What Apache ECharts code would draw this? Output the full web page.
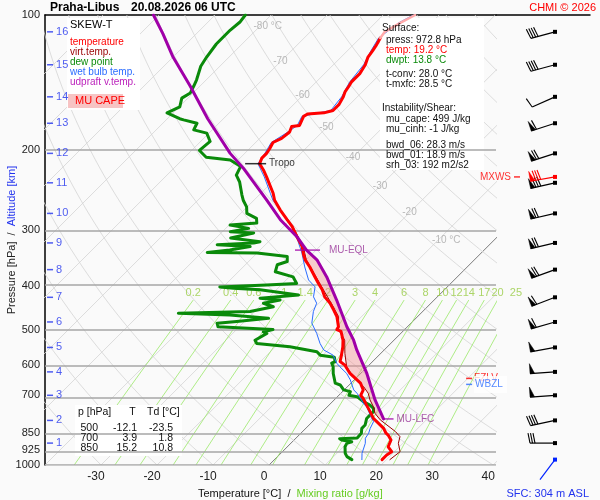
<!DOCTYPE html>
<html>
<head>
<meta charset="utf-8">
<title>Praha-Libus skew-T</title>
<script src="https://cdn.jsdelivr.net/npm/echarts@6.0.0/dist/echarts.min.js"></script>
<style>
  html, body { margin: 0; padding: 0; background: #fafafa; }
  #chart { width: 600px; height: 500px; }
</style>
</head>
<body>
<div id="chart"></div>
<script>
// Sounding Praha-Libus 20.08.2026 06 UTC
// profiles are [pressure hPa, temperature °C]
const temperature = [[972.8,19.2],[950,19.2],[934,19.5],[911,18.0],[880,17.3],[858,15.9],[850,15.2],[829,13.9],[808,12.1],[788,10.3],[761,8.5],[736,6.7],[711,4.9],[700,3.9],[693,3.75],[681,3.4],[658,1.7],[626,-1.9],[600,-4.3],[589,-5.8],[570,-6.7],[547,-7.9],[528,-9.1],[505,-11.0],[500,-12.1],[493,-12.3],[468,-14.4],[452,-16.2],[437,-18.0],[423,-20.1],[408,-21.8],[395,-23.6],[382,-25.4],[363,-28.1],[350,-30.2],[341,-31.4],[327,-33.1],[311,-35.8],[295,-38.5],[285,-40.6],[271,-43.6],[258,-46.3],[249,-47.8],[229,-51.9],[221,-53.7],[214,-55.5],[208,-56.1],[203,-56.1],[198,-56.4],[192,-56.9],[188,-56.1],[182,-55.8],[177,-56.4],[176,-55.2],[168,-56.1],[166,-55.8],[165,-53.1],[163,-51.9],[158,-51.9],[152,-52.5],[148,-53.1],[144,-53.4],[141,-53.7],[135,-53.7],[129,-54.3],[124,-55.2],[120,-55.5],[117,-55.8],[112.5,-56.4]];
const temperatureTop = [[112.5,-56.4],[109,-56.7],[104,-55.5],[100,-54.3]];
const virtTemp = [[972.8,20.6],[934,21.0],[895,19.2],[865,18.3],[843,16.6],[815,13.9],[794,11.8],[768,9.7],[742,8.2],[717,6.4],[693,4.9],[670,2.9],[637,-0.7],[605,-3.7],[565,-6.4],[528,-8.8],[500,-11.8],[468,-14.1],[437,-17.8],[408,-21.6],[382,-25.2],[350,-30.0],[327,-32.9],[295,-38.4]];
const dewPoint = [[972.8,13.8],[958,12.4],[942,11.5],[911,10.3],[895,10.0],[888,10.6],[880,8.5],[874,7.9],[871,10.9],[850,10.8],[829,10.0],[815,10.0],[788,9.1],[774,9.1],[761,9.1],[748,8.5],[736,7.3],[723,5.5],[705,3.5],[700,1.8],[687,1.4],[681,-0.1],[664,-1.6],[658,-2.8],[626,-4.9],[605,-6.1],[594,-7.0],[589,-6.7],[576,-7.6],[570,-10.5],[560,-11.7],[546,-17.4],[537,-23.9],[528,-24.8],[510,-23.9],[506,-24.8],[500,-23.5],[493,-33.8],[484,-34.6],[480,-31.4],[472,-26.3],[464,-33.8],[460,-43.3],[456,-30.8],[445,-27.5],[437,-29.9],[430,-27.5],[426,-31.4],[419,-25.1],[408,-32.9],[405,-37.9],[402,-40.6],[398,-32.6],[395,-27.5],[382,-29.3],[372,-33.4],[359,-34.3],[353,-33.1],[344,-34.0],[338,-40.0],[337,-49.0],[333,-45.4],[327,-42.4],[324,-48.6],[321,-42.4],[319,-41.5],[313,-47.4],[305,-44.2],[303,-48.6],[298,-45.9],[293,-49.8],[290,-45.4],[283,-46.3],[276,-48.9],[267,-50.1],[258,-51.9],[251,-53.1],[235,-55.8],[227,-57.6],[217,-58.4],[210,-61.4],[207,-66.2],[200,-68.6],[191,-68.3],[183,-70.4],[180,-73.3],[174,-73.9],[171,-76.9],[170,-77.8],[165,-81.1],[160,-79.9],[153,-81.1],[149,-80.5],[144,-81.1],[139.5,-81.7],[130,-83.4],[124,-84.0],[116,-84.6],[108,-84.6],[103.5,-84.3],[100,-84.6]];
const wetBulb = [[972.8,15.6],[942,14.5],[895,13.3],[872,12.4],[850,12.1],[829,11.5],[801,10.9],[788,10.0],[742,7.0],[730,5.8],[717,4.9],[693,2.9],[681,1.7],[647,-0.7],[626,-2.5],[605,-4.9],[594,-6.1],[570,-8.2],[555,-10.8],[537,-12.6],[510,-15.0],[484,-17.7],[456,-19.5],[437,-20.4],[423,-22.1],[402,-23.6],[388,-26.0],[363,-29.0],[338,-32.0],[321,-34.4],[305,-36.7],[290,-39.4],[276,-42.4],[258,-46.6],[249,-48.3],[229,-52.3],[214,-55.8],[203,-56.4],[192,-57.2],[182,-56.1],[176,-55.6],[168,-56.4],[163,-52.3],[152,-52.8],[141,-54.0],[129,-54.6],[120,-55.8],[112.5,-56.7],[104,-55.8],[100,-54.6]];
const parcelVirt = [[790,12.2],[717,7.3],[626,1.1],[555,-4.9],[528,-7.2],[493,-10.8],[430,-17.4],[382,-23.3],[350,-28.1],[333,-31.7],[311,-35.8],[285,-41.8],[258,-47.7],[219,-57.6],[203,-62.6],[170,-72.8],[144,-81.7],[124,-90.0],[110,-96.0],[100,-101.0]];

// levels
const tropo = [214, -55.5];
const muLfc = [790, 12.2];
const muEql = [333, -31.7];
const fzlvP = 642;
const wbzlP = 662;

// wind barbs at altitude levels (km), direction deg, speed kt
const altKm = [1, 2, 3, 4, 5, 6, 7, 8, 9, 10, 11, 12, 13, 14, 15, 16];
const altP = [894, 796, 700, 621, 548, 481, 424, 368, 321, 276, 236, 203, 174, 152, 129, 109];
const windDir = [270, 258, 266, 266, 260, 254, 249, 250, 257, 257, 257, 252, 252, 246, 255, 255];
const windSpd = [30, 40, 50, 50, 50, 60, 60, 70, 70, 70, 80, 70, 60, 10, 40, 40];
const mxws = [229, 260, 80];
const sfcWind = [972.8, 217, 0];

// axes and background lines
const pressureTicks = [100, 200, 300, 400, 500, 600, 700, 850, 925, 1000];
const pressureLines = [200, 300, 400, 500, 600, 700, 850, 925];
const tempTicks = [-30, -20, -10, 0, 10, 20, 30, 40];
const isotherms = [-110, -100, -90, -80, -70, -60, -50, -40, -30, -20, -10, 0, 10, 20, 30, 40];
const isoLabelT = [-80, -70, -60, -50, -40, -30, -20, -10];
const isoLabelP = [106, 127, 151, 178, 207, 240, 275, 316];
const dryTheta = [-30, -20, -10, 0, 10, 20, 30, 40, 50, 60, 70, 80, 90, 100, 110, 120, 130, 140, 150, 160, 170, 180, 190, 200];
const mixRatio = [0.2, 0.4, 0.6, 1, 1.4, 2, 3, 4, 6, 8, 10, 12, 14, 17, 20, 25];
const mixTopP = 430;

const tableRows = [['500', '-12.1', '-23.5'], ['700', '3.9', '1.8'], ['850', '15.2', '10.8']];

const FONT = 'Liberation Sans, Arial, sans-serif';
const SKEW = 80.36;   // degC per pressure decade

// skew-T transform: x = T + skew*log(1000/p), y = log10(p)
const sk = (p, t) => [t + SKEW * Math.log10(1000 / p), Math.log10(p)];
const toXY = arr => arr.map(d => sk(d[0], d[1]));

const logSteps = (pBottom, pTop) => {
  const out = [];
  for (let l = Math.log10(pBottom); l > Math.log10(pTop); l -= 0.02) out.push(Math.pow(10, l));
  out.push(pTop);
  return out;
};
const tDry = (th, p) => (th + 273.15) * Math.pow(p / 1000, 0.2857) - 273.15;
const tMix = (w, p) => {
  const l = Math.log((w * p / (622 + w)) / 6.112);
  return 243.5 * l / (17.67 - l);
};

function bgLine(data, color, width, extra) {
  return Object.assign({
    type: 'line', data: data, showSymbol: false, silent: true, z: 1,
    xAxisIndex: 0, yAxisIndex: 0, lineStyle: {color: color, width: width}
  }, extra || {});
}

function profile(data, color, width, z) {
  return {
    type: 'line', data: toXY(data), showSymbol: false, silent: true, z: z,
    xAxisIndex: 0, yAxisIndex: 0,
    lineStyle: {color: color, width: width, join: 'round', cap: 'round'}
  };
}

const series = [];

isotherms.forEach(t => {
  series.push(bgLine([sk(1000, t), sk(100, t)], t === 0 ? '#7a7a7a' : '#d4d4d4', t === 0 ? 1 : 0.8));
});
dryTheta.forEach(th => {
  series.push(bgLine(logSteps(1000, 100).map(p => sk(p, tDry(th, p))), '#d4d4d4', 0.8));
});
mixRatio.forEach(w => {
  series.push(bgLine(logSteps(1000, mixTopP).map(p => sk(p, tMix(w, p))), '#9be868', 0.8, {clip: false}));
});

// pressure levels
series.push({
  type: 'line', data: [[-40, 3], [40.5, 3]], showSymbol: false, silent: true, z: 2,
  lineStyle: {color: '#a6a6a6', width: 1.5},
  markLine: {
    silent: true, symbol: 'none', animation: false, label: {show: false},
    lineStyle: {color: '#a6a6a6', width: 1.5, type: 'solid'},
    data: pressureLines.map(p => ({yAxis: Math.log10(p)}))
  }
});

// labels of isotherms and mixing ratio lines
series.push({
  type: 'scatter', symbolSize: 0, silent: true, z: 3, clip: false,
  data: isoLabelT.map((t, i) => ({
    value: sk(isoLabelP[i], t),
    label: {
      show: true, position: 'inside', color: '#a8a8a8', fontSize: 10, fontFamily: FONT,
      formatter: (i === 0 || i === isoLabelT.length - 1) ? t + ' °C' : String(t),
      offset: (i === 0 || i === isoLabelT.length - 1) ? [8, 0] : [0, 0]
    }
  }))
});
series.push({
  type: 'scatter', symbolSize: 0, silent: true, z: 3, clip: false,
  data: mixRatio.map(w => ({
    value: sk(mixTopP, tMix(w, mixTopP)),
    label: {show: true, position: 'inside', offset: [0, -7], color: '#99cc44', fontSize: 11,
            fontFamily: FONT, formatter: String(w)}
  }))
});

// CAPE area between the parcel and the environment
series.push({
  type: 'custom', silent: true, z: 6, xAxisIndex: 0, yAxisIndex: 0,
  data: [[0, 2.5]],
  renderItem: (params, api) => {
    const upper = parcelVirt.filter(d => d[0] >= muEql[0] && d[0] <= muLfc[0]);
    const lower = virtTemp.filter(d => d[0] >= muEql[0] && d[0] <= 800).reverse();
    const pts = upper.concat(lower).map(d => api.coord(sk(d[0], d[1])));
    return {type: 'polygon', shape: {points: pts}, style: {fill: 'rgba(240,140,140,0.42)'}};
  }
});

series.push(profile(dewPoint, '#0a8a0a', 3, 10));
series.push(profile(wetBulb, '#2a6cff', 1, 11));
series.push(profile(virtTemp, '#990000', 1, 11));
series.push(profile(temperature, '#ff0000', 3, 12));
series.push(profile(temperatureTop, '#ffaaaa', 2.5, 12));
series.push(profile(parcelVirt, '#a000a8', 3, 13));

// level markers
const markerLabel = (text, color, dist) => ({
  show: true, position: 'right', distance: dist, formatter: text,
  color: color, fontSize: 10, fontFamily: FONT
});
series.push({
  type: 'scatter', symbol: 'rect', silent: true, z: 20, clip: false,
  data: [
    {value: sk(tropo[0], tropo[1]), symbolSize: [21, 1.5], symbolOffset: [-4, 0],
     itemStyle: {color: '#000'}, label: markerLabel('Tropo', '#000', 3)},
    {value: sk(muEql[0], muEql[1]), symbolSize: [25, 1.5], symbolOffset: [1, 0],
     itemStyle: {color: '#a000a8'}, label: markerLabel('MU-EQL', '#993399', 9)},
    {value: sk(muLfc[0], muLfc[1]), symbolSize: [10, 1.5], symbolOffset: [5, 0],
     itemStyle: {color: '#a000a8'}, label: markerLabel('MU-LFC', '#993399', 3)},
    {value: [35.7, Math.log10(fzlvP)], symbolSize: [6, 1.5],
     itemStyle: {color: '#ff0000'}, label: markerLabel('FZLV', '#ff0000', 2)}
  ]
});
series.push({
  type: 'scatter', symbol: 'rect', silent: true, z: 21, clip: false,
  data: [{value: [35.7, Math.log10(wbzlP)], symbolSize: [6, 1.5], itemStyle: {color: '#2a6cff'},
          label: Object.assign(markerLabel('WBZL', '#2a6cff', 2),
                               {backgroundColor: '#fff', padding: [4, 4, 3, 1]})}]
});

// altitude scale
series.push({
  type: 'scatter', symbol: 'rect', symbolSize: [6, 1.5], silent: true, z: 20, clip: false,
  itemStyle: {color: '#2233ee'},
  data: altP.map((p, i) => ({
    value: [-39.1, Math.log10(p)],
    label: {show: true, position: 'right', distance: 3, formatter: String(altKm[i]),
            color: '#2233ee', fontSize: 11, fontFamily: FONT}
  }))
});

// wind barbs in the right strip
const barbColors = ['#000000', '#ff0000', '#0022ff'];
const windRows = altP.map((p, i) => [59, Math.log10(p), windDir[i], windSpd[i], 0]);
windRows.push([59, Math.log10(mxws[0]), mxws[1], mxws[2], 1]);
windRows.push([59, Math.log10(sfcWind[0]), sfcWind[1], sfcWind[2], 2]);

function renderBarb(params, api) {
  const c = api.coord([api.value(0), api.value(1)]);
  const a = api.value(2) * Math.PI / 180;
  let spd = api.value(3);
  const col = barbColors[api.value(4)];
  const u = [Math.sin(a), -Math.cos(a)];
  const n = [-u[1], u[0]];
  const L = 25, B = 10;
  const tip = [c[0] + u[0] * L, c[1] + u[1] * L];
  const at = d => [tip[0] - u[0] * d, tip[1] - u[1] * d];
  const kids = [
    {type: 'line', shape: {x1: c[0], y1: c[1], x2: tip[0], y2: tip[1]}, style: {stroke: col, lineWidth: 1.2}},
    {type: 'rect', shape: {x: c[0] - 2, y: c[1] - 2, width: 4, height: 4}, style: {fill: col}}
  ];
  let pos = 0;
  while (spd >= 50) {
    const p0 = at(pos), p1 = at(pos + 4.5);
    kids.push({type: 'polygon', shape: {points: [p0, [p0[0] + n[0] * B, p0[1] + n[1] * B], p1]},
               style: {fill: col, stroke: col, lineWidth: 0.5}});
    pos += 5.5; spd -= 50;
  }
  while (spd >= 10) {
    const p0 = at(pos);
    kids.push({type: 'line', shape: {x1: p0[0], y1: p0[1], x2: p0[0] + n[0] * B + u[0] * 2, y2: p0[1] + n[1] * B + u[1] * 2},
               style: {stroke: col, lineWidth: 1.1}});
    pos += 2.5; spd -= 10;
  }
  if (spd >= 5) {
    const p0 = at(pos + 1);
    kids.push({type: 'line', shape: {x1: p0[0], y1: p0[1], x2: p0[0] + n[0] * 5 + u[0], y2: p0[1] + n[1] * 5 + u[1]},
               style: {stroke: col, lineWidth: 1.1}});
  }
  return {type: 'group', children: kids};
}

series.push({
  type: 'custom', xAxisIndex: 2, yAxisIndex: 1, silent: true, z: 10, clip: false,
  data: windRows, renderItem: renderBarb
});
series.push({
  type: 'scatter', xAxisIndex: 2, yAxisIndex: 1, symbol: 'rect', symbolSize: [6, 1.5], silent: true,
  z: 20, clip: false, itemStyle: {color: '#ff0000'},
  data: [{value: [21, Math.log10(mxws[0])],
          label: {show: true, position: 'left', distance: 3, formatter: 'MXWS', color: '#ff0000',
                  fontSize: 10, fontFamily: FONT}}]
});

// texts
const ts = (size, color, extra) => Object.assign({fontSize: size, color: color, fontFamily: FONT, lineHeight: 10, fontWeight: 'normal'}, extra || {});
const legendRich = {
  r: ts(10, '#ff0000'), d: ts(10, '#990000'), g: ts(10, '#0a8a0a'), b: ts(10, '#2a6cff'), p: ts(10, '#bb22bb')
};
const infoRich = {k: ts(10, '#111'), r: ts(10, '#ff0000'), g: ts(10, '#0a8a0a')};
const tabRich = {
  a: ts(10.5, '#111', {width: 20, align: 'right'}),
  b: ts(10.5, '#111', {width: 39, align: 'right'}),
  c: ts(10.5, '#111', {width: 36, align: 'right'}),
  h1: ts(10.5, '#111', {width: 40, align: 'left'}),
  h2: ts(10.5, '#111', {width: 29, align: 'center'}),
  h3: ts(10.5, '#111', {align: 'left'})
};
const title = (text, left, top, style) => ({text: text, left: left, top: top, padding: 0, z: 30, textStyle: style});

const titles = [
  title('Praha-Libus', 50, 1, ts(12, '#000', {fontWeight: 'bold', lineHeight: 14})),
  title('20.08.2026 06 UTC', 131, 1, ts(12, '#000', {fontWeight: 'bold', lineHeight: 14})),
  {text: 'CHMI © 2026', right: 4, top: 1, padding: 0, z: 30, textStyle: ts(11, '#ff0000', {lineHeight: 14})},
  title('SKEW-T', 70, 19, ts(11, '#000', {lineHeight: 12})),
  title('{r|temperature}\n{d|virt.temp.}\n{g|dew point}\n{b|wet bulb temp.}\n{p|udpraft v.temp.}', 70, 37,
        ts(10, '#000', {rich: legendRich})),
  title('MU CAPE', 75, 95, ts(11, '#ff0000', {lineHeight: 12})),
  title('Surface:', 382, 22, ts(10, '#111', {lineHeight: 12})),
  title('{k|press: 972.8 hPa}\n{r|temp: 19.2 °C}\n{g|dwpt: 13.8 °C}', 386, 35, ts(10, '#111', {rich: infoRich})),
  title('t-conv: 28.0 °C\nt-mxfc: 28.5 °C', 386, 69, ts(10, '#111')),
  title('Instability/Shear:', 382, 102, ts(10, '#111', {lineHeight: 12})),
  title('mu_cape: 499 J/kg\nmu_cinh: -1 J/kg', 386, 114, ts(10, '#111')),
  title('bwd_06: 28.3 m/s\nbwd_01: 18.9 m/s\nsrh_03: 192 m2/s2', 386, 140, ts(10, '#111')),
  title('{h1|p [hPa]}{h2|T}{h3|Td [°C]}', 78, 407, ts(10.5, '#111', {rich: tabRich, lineHeight: 12})),
  title(tableRows.map(r => '{a|' + r[0] + '}{b|' + r[1] + '}{c|' + r[2] + '}').join('\n'), 78, 423,
        ts(10.5, '#111', {rich: tabRich})),
  title('{k|Temperature [°C]  /  }{g|Mixing ratio [g/kg]}', 198, 487,
        ts(11, '#111', {lineHeight: 14, rich: {k: ts(11, '#111', {lineHeight: 14}), g: ts(11, '#66cc22', {lineHeight: 14})}})),
  {text: 'SFC: 304 m ASL', right: 11, top: 487, padding: 0, z: 30, textStyle: ts(11, '#2233ee', {lineHeight: 14})}
];

const boxes = [
  {type: 'rect', silent: true, z: 5, shape: {x: 67, y: 18, width: 73, height: 92}, style: {fill: '#ffffff'}},
  {type: 'rect', silent: true, z: 5, shape: {x: 68, y: 94, width: 55, height: 14}, style: {fill: '#f7c4c4'}},
  {type: 'rect', silent: true, z: 5, shape: {x: 380, y: 18, width: 104, height: 152}, style: {fill: '#ffffff'}},
  {type: 'rect', silent: true, z: 1.5, shape: {x: 75, y: 405, width: 107, height: 51}, style: {fill: '#ffffff'}}
];

const hidden = {show: false};
const option = {
  animation: false,
  backgroundColor: '#fafafa',
  textStyle: {fontFamily: FONT},
  title: titles,
  graphic: {elements: boxes},
  grid: [
    {left: 45, right: 104, top: 15, bottom: 35, containLabel: false, outerBoundsMode: 'none'},
    {left: 496, right: 10, top: 15, bottom: 35, containLabel: false, outerBoundsMode: 'none'}
  ],
  xAxis: [
    {gridIndex: 0, type: 'value', min: -40, max: 40.5, position: 'bottom',
     axisLine: hidden, axisTick: hidden, splitLine: hidden,
     axisLabel: {customValues: tempTicks, fontSize: 12, color: '#222', margin: 6,
                 padding: [0, 10, 0, 0], fontFamily: FONT}},
    {gridIndex: 0, type: 'value', min: -40, max: 40.5, position: 'top',
     axisLine: {show: true, onZero: false, lineStyle: {color: '#000', width: 1.5}},
     axisTick: hidden, axisLabel: hidden, splitLine: hidden},
    {gridIndex: 1, type: 'value', min: 0, max: 94, position: 'top',
     axisLine: {show: true, onZero: false, lineStyle: {color: '#000', width: 1.5}},
     axisTick: hidden, axisLabel: hidden, splitLine: hidden}
  ],
  yAxis: [
    {gridIndex: 0, type: 'value', min: 2, max: 3, inverse: true,
     axisLine: {show: true, onZero: false, lineStyle: {color: '#000', width: 1.5}},
     axisTick: hidden, splitLine: hidden,
     axisLabel: {customValues: pressureTicks.map(p => Math.log10(p)),
                 formatter: v => String(Math.round(Math.pow(10, v))),
                 fontSize: 11, color: '#222', margin: 5, fontFamily: FONT},
     name: '{a|Pressure [hPa]  /  }{b|Altitude [km]}', nameLocation: 'middle', nameGap: 27,
     nameMoveOverlap: false,
     nameTextStyle: {rich: {a: ts(11, '#222', {lineHeight: 13}), b: ts(11, '#2233ee', {lineHeight: 13})}}},
    {gridIndex: 1, type: 'value', min: 2, max: 3, inverse: true, show: false}
  ],
  series: series
};

const chart = echarts.init(document.getElementById('chart'));
chart.setOption(option);
</script>
</body>
</html>
